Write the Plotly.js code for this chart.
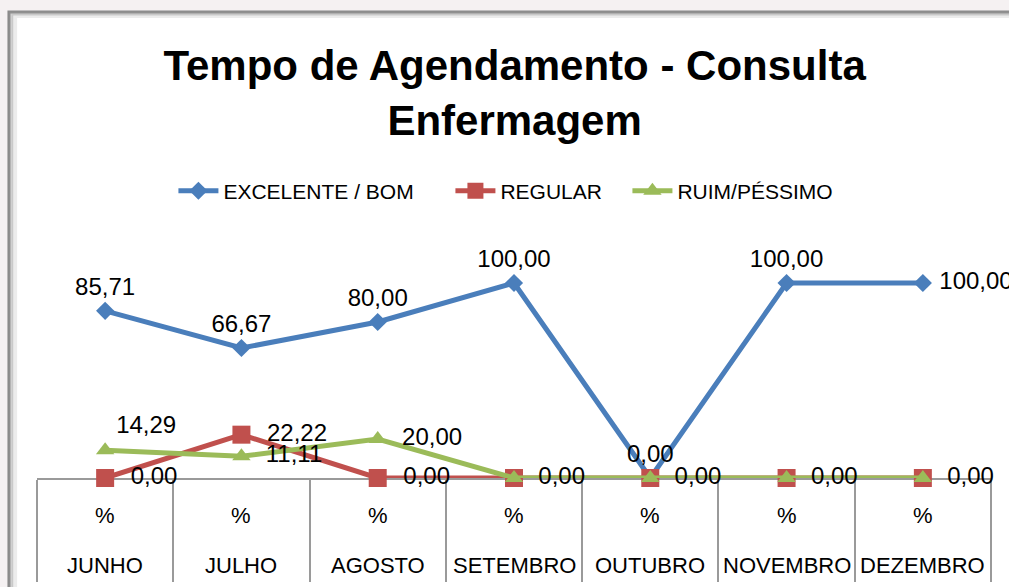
<!DOCTYPE html>
<html>
<head>
<meta charset="utf-8">
<script src="https://cdn.plot.ly/plotly-3.0.1.min.js"></script>
<style>
  html, body { margin: 0; padding: 0; background: #f5f1f2; }
  #chart { width: 1009px; height: 587px; }
</style>
</head>
<body>
<div id="chart"></div>
<script>
// ---- data ----
const months = ['JUNHO', 'JULHO', 'AGOSTO', 'SETEMBRO', 'OUTUBRO', 'NOVEMBRO', 'DEZEMBRO'];
const unitLabels = ['%', '%', '%', '%', '%', '%', '%'];
const excelenteBom = [85.71, 66.67, 80.00, 100.00, 0.00, 100.00, 100.00];
const regular = [0.00, 22.22, 0.00, 0.00, 0.00, 0.00, 0.00];
const ruimPessimo = [14.29, 11.11, 20.00, 0.00, 0.00, 0.00, 0.00];
const seriesNames = ['EXCELENTE / BOM', 'REGULAR', 'RUIM/PÉSSIMO'];
const chartTitle = 'Tempo de Agendamento - Consulta<br>Enfermagem';

// ---- styling ----
const FONT = 'Liberation Sans, Arial, sans-serif';
const blue = '#4A7EBB', red = '#C0504D', green = '#9BBB59';
const NB = '\u00a0\u00a0';

const last = excelenteBom.length - 1;
const blueTextPos = excelenteBom.map((v, i) => i === last ? 'middle right' : 'top center');
const blueTemplate = excelenteBom.map((v, i) => i === last ? '\u00a0%{y:.2f}' : '%{y:.2f}');
const greenTextPos = ruimPessimo.map((v, i) => i === 0 ? 'top right' : 'middle right');
const greenTemplate = ruimPessimo.map((v, i) => i === 0 ? '%{y:.2f}' : NB + '%{y:.2f}');
// where red and green labels land on the same spot, draw the text once
const redTextColor = regular.map((v, i) => v === ruimPessimo[i] && i > 0 ? 'rgba(0,0,0,0)' : '#000');

const labelFont = { family: FONT, size: 24, color: '#000' };

const traces = [
  {
    x: months, y: excelenteBom, name: seriesNames[0], type: 'scatter', mode: 'lines+markers+text',
    line: { color: blue, width: 5 },
    marker: { symbol: 'diamond', size: 14, color: blue },
    texttemplate: blueTemplate, textposition: blueTextPos, textfont: labelFont, cliponaxis: false,
    legendwidth: 222
  },
  {
    x: months, y: regular, name: seriesNames[1], type: 'scatter', mode: 'lines+markers+text',
    line: { color: red, width: 5 },
    marker: { symbol: 'square', size: 18, color: red },
    texttemplate: NB + '%{y:.2f}', textposition: 'middle right',
    textfont: { family: FONT, size: 24, color: redTextColor }, cliponaxis: false,
    legendwidth: 122
  },
  {
    x: months, y: ruimPessimo, name: seriesNames[2], type: 'scatter', mode: 'lines+markers+text',
    line: { color: green, width: 5 },
    marker: { symbol: 'triangle-up', size: 16, color: green },
    texttemplate: greenTemplate, textposition: greenTextPos, textfont: labelFont, cliponaxis: false
  }
];

const annotations = [];
months.forEach((m, i) => {
  annotations.push({ x: m, xref: 'x', y: -0.162, yref: 'paper', text: unitLabels[i], showarrow: false,
    yanchor: 'middle', xanchor: 'center', font: { family: FONT, size: 22, color: '#000' } });
  annotations.push({ x: m, xref: 'x', y: -0.372, yref: 'paper', text: m, showarrow: false,
    yanchor: 'middle', xanchor: 'center', font: { family: FONT, size: 22, color: '#000' } });
});

const layout = {
  width: 1009, height: 587, autosize: false,
  margin: { l: 37, r: 18, t: 244, b: 109, pad: 0 },
  paper_bgcolor: '#f5f1f2',
  plot_bgcolor: 'rgba(0,0,0,0)',
  separators: ',.',
  font: { family: FONT, color: '#000' },
  title: {
    text: '<b>' + chartTitle + '</b>',
    font: { family: FONT, size: 42, color: '#000' },
    x: 0.510, xanchor: 'center', y: 0.863, yanchor: 'top', yref: 'container'
  },
  showlegend: true,
  legend: {
    orientation: 'h', x: 0.143, xanchor: 'left', y: 1.226, yanchor: 'middle',
    font: { family: FONT, size: 21, color: '#000' }, bgcolor: 'rgba(0,0,0,0)',
    itemwidth: 40
  },
  xaxis: {
    type: 'category', range: [-0.5, months.length - 0.5], fixedrange: true,
    showgrid: false, zeroline: false,
    showline: true, linecolor: '#9a9a9a', linewidth: 2,
    tickson: 'boundaries', ticks: 'outside', ticklen: 102, tickwidth: 2, tickcolor: '#9a9a9a',
    showticklabels: false, layer: 'below traces'
  },
  yaxis: {
    range: [0, 120], visible: false, fixedrange: true, showgrid: false, zeroline: false
  },
  annotations: annotations,
  shapes: [
    { type: 'rect', xref: 'paper', yref: 'paper', layer: 'below',
      x0: -0.0294, x1: 1.03, y0: -0.49, y1: 1.9915,
      fillcolor: '#ffffff', line: { color: '#8a8a8a', width: 3 } },
    { type: 'rect', xref: 'paper', yref: 'paper', layer: 'below',
      x0: -0.0270, x1: 1.03, y0: -0.49, y1: 1.985,
      fillcolor: 'rgba(0,0,0,0)', line: { color: 'rgba(150,150,150,0.45)', width: 4 } },
    { type: 'rect', xref: 'paper', yref: 'paper', layer: 'below',
      x0: -0.0235, x1: 1.03, y0: -0.49, y1: 1.976,
      fillcolor: 'rgba(0,0,0,0)', line: { color: 'rgba(180,180,180,0.25)', width: 5 } }
  ]
};

Plotly.newPlot('chart', traces, layout, { staticPlot: true, displayModeBar: false });
</script>
</body>
</html>
